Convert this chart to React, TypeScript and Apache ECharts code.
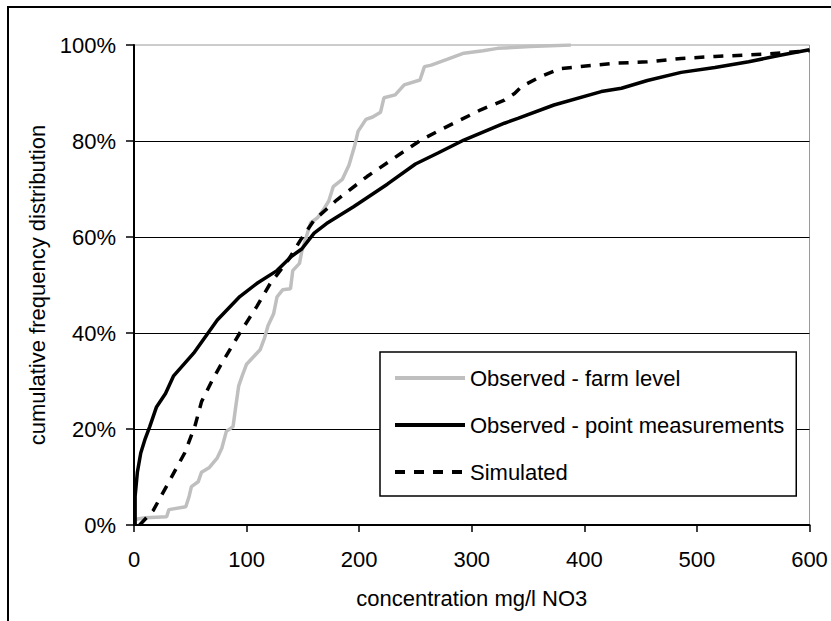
import React, { useEffect, useRef } from "react";
import * as echarts from "echarts";

const seriesNames = [
  "Observed - farm level",
  "Observed - point measurements",
  "Simulated",
];

// [concentration mg/l NO3, cumulative %]
const farmLevel: number[][] = [
  [2, 1.2], [10, 1.5], [29, 1.7], [31, 3.2], [46, 3.8], [49, 6], [51, 8], [57, 9],
  [60, 11], [67, 12], [74, 14], [78, 16], [82, 19.5], [88, 20.5], [90, 24], [93, 29],
  [96, 31], [100, 33.5], [106, 35], [112, 36.5], [116, 39], [119, 41.5], [124, 44],
  [127, 47.5], [132, 49], [139, 49.2], [141, 53], [147, 54.5], [149, 57], [153, 60],
  [157, 63], [163, 64], [168, 65.6], [173, 67.5], [177, 70.5], [185, 72], [191, 75],
  [196, 79], [199, 82], [206, 84.5], [212, 85], [219, 86], [222, 89], [232, 89.6],
  [240, 91.7], [254, 92.7], [258, 95.5], [264, 95.8], [278, 97], [293, 98.3],
  [310, 98.8], [323, 99.3], [352, 99.7], [388, 100],
];

const pointMeasurements: number[][] = [
  [1, 0], [1, 6], [3, 11], [6, 15], [10, 18], [14, 20.5], [20, 24.6], [28, 27.4],
  [35, 31], [53, 35.8], [74, 42.7], [94, 47.6], [109, 50.3], [127, 53], [140, 56],
  [149, 57.5], [160, 60.8], [171, 62.8], [195, 66.3], [225, 71], [250, 75.2],
  [270, 77.5], [293, 80.2], [329, 83.7], [341, 84.7], [373, 87.5], [415, 90.3],
  [433, 91], [456, 92.6], [486, 94.3], [516, 95.3], [546, 96.5], [575, 97.9], [600, 99],
];

const simulated: number[][] = [
  [5, 0], [17, 3], [32, 9.4], [45, 15], [54, 20.5], [60, 25.7], [69, 29.9], [77, 33.3],
  [94, 40], [109, 45.5], [121, 50.3], [137, 55.2], [148, 59.4], [160, 63.5],
  [180, 67.7], [207, 72.6], [237, 77.4], [255, 80.2], [272, 82.3], [308, 86.5],
  [329, 88.5], [338, 89.9], [344, 91.3], [361, 93.4], [379, 95.1], [427, 96.2],
  [456, 96.5], [486, 97.2], [516, 97.6], [560, 98.1], [600, 98.8],
];

const xTitle = "concentration mg/l NO3";
const yTitle = "cumulative frequency distribution";

const FONT = "'Liberation Sans', Arial, sans-serif";

export default function App() {
  const ref = useRef<HTMLDivElement>(null);

  useEffect(() => {
    document.body.style.margin = "0";
    document.body.style.overflow = "hidden";
    if (!ref.current) return;
    const chart = echarts.init(ref.current, undefined, { renderer: "svg" });
    chart.setOption({
      animation: false,
      backgroundColor: "#fff",
      textStyle: { fontFamily: FONT, color: "#000" },
      graphic: [
        {
          type: "rect",
          shape: { x: 8, y: 7, width: 900, height: 700 },
          style: { fill: "none", stroke: "#000", lineWidth: 2 },
          z: 0,
        },
      ],
      grid: {
        left: 134,
        top: 45,
        right: 21.5,
        bottom: 96,
        show: true,
        borderColor: "#999",
        borderWidth: 1,
        backgroundColor: "transparent",
      },
      legend: {
        orient: "vertical",
        left: 380,
        top: 352,
        itemWidth: 70,
        itemHeight: 22,
        itemGap: 25,
        padding: [15, 12, 13, 13],
        borderColor: "#000",
        borderWidth: 1.5,
        backgroundColor: "#fff",
        selectedMode: false,
        data: seriesNames,
        itemStyle: { opacity: 0 },
        lineStyle: { width: 4 },
        textStyle: { fontFamily: FONT, fontSize: 22, color: "#000" },
      },
      xAxis: {
        type: "value",
        min: 0,
        max: 600,
        interval: 100,
        name: xTitle,
        nameLocation: "middle",
        nameGap: 62,
        nameTextStyle: { fontFamily: FONT, fontSize: 22, color: "#000" },
        axisLine: { show: true, lineStyle: { color: "#000", width: 2 } },
        axisTick: { show: true, inside: false, length: 7, lineStyle: { color: "#000", width: 1.5 } },
        axisLabel: { fontFamily: FONT, fontSize: 22, color: "#000", margin: 23 },
        splitLine: { show: false },
      },
      yAxis: {
        type: "value",
        min: 0,
        max: 100,
        interval: 20,
        name: yTitle,
        nameLocation: "middle",
        nameGap: 85,
        nameRotate: 90,
        nameTextStyle: { fontFamily: FONT, fontSize: 22, color: "#000" },
        axisLine: { show: true, lineStyle: { color: "#000", width: 2 } },
        axisTick: { show: true, inside: false, length: 8, lineStyle: { color: "#000", width: 1.5 } },
        axisLabel: {
          fontFamily: FONT,
          fontSize: 22,
          color: "#000",
          margin: 18,
          formatter: "{value}%",
        },
        splitLine: {
          show: true,
          showMaxLine: false,
          lineStyle: { color: "#000", width: 1 },
        },
      },
      series: [
        {
          name: seriesNames[0],
          type: "line",
          data: farmLevel,
          symbol: "none",
          lineStyle: { color: "#bfbfbf", width: 3.5 },
          itemStyle: { color: "#bfbfbf" },
          z: 2,
        },
        {
          name: seriesNames[1],
          type: "line",
          data: pointMeasurements,
          symbol: "none",
          lineStyle: { color: "#000", width: 3.5 },
          itemStyle: { color: "#000" },
          z: 3,
        },
        {
          name: seriesNames[2],
          type: "line",
          data: simulated,
          symbol: "none",
          lineStyle: { color: "#000", width: 3.5, type: [10, 9] },
          itemStyle: { color: "#000" },
          z: 4,
        },
      ],
    });
    return () => chart.dispose();
  }, []);

  return <div ref={ref} style={{ width: 831, height: 621 }} />;
}
